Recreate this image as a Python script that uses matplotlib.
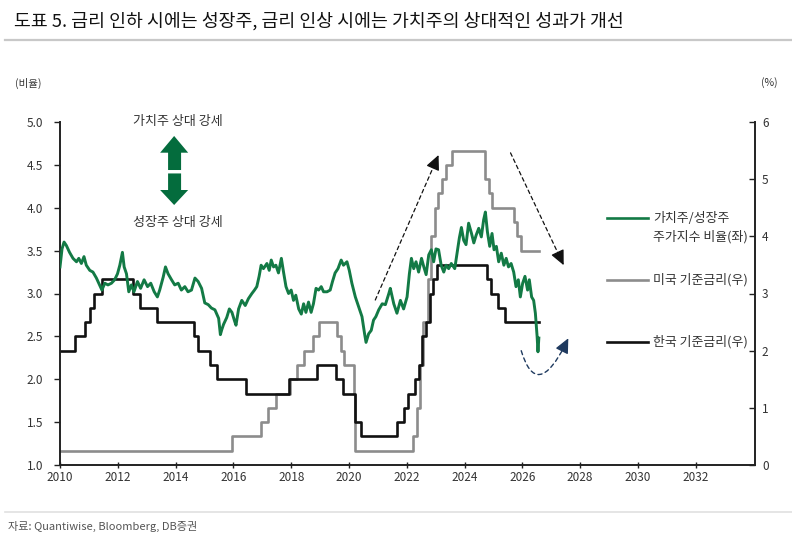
import matplotlib
matplotlib.use("Agg")
import matplotlib.pyplot as plt
from matplotlib.patches import Polygon, FancyArrowPatch
from matplotlib.path import Path
from matplotlib.lines import Line2D

plt.rcParams['font.family'] = ['Noto Sans CJK KR', 'DejaVu Sans']

# ---------------- data ----------------
ratio_years = [2010.00, 2010.07, 2010.14, 2010.22, 2010.33, 2010.45, 2010.57, 2010.65, 2010.74, 2010.83,
               2010.91, 2011.03, 2011.14, 2011.26, 2011.37, 2011.45, 2011.55, 2011.66, 2011.78, 2011.89,
               2011.99, 2012.07, 2012.16, 2012.22, 2012.30, 2012.38, 2012.47, 2012.56, 2012.68, 2012.79,
               2012.91, 2013.03, 2013.14, 2013.26, 2013.37, 2013.45, 2013.57, 2013.65, 2013.74, 2013.86,
               2013.97, 2014.09, 2014.20, 2014.32, 2014.43, 2014.55, 2014.67, 2014.78, 2014.90, 2015.01,
               2015.13, 2015.24, 2015.36, 2015.45,
               2015.49, 2015.55, 2015.60, 2015.66, 2015.77, 2015.86, 2015.95, 2016.04, 2016.09, 2016.18,
               2016.29, 2016.41, 2016.52, 2016.64, 2016.73, 2016.81, 2016.89, 2016.96, 2017.04, 2017.16,
               2017.24, 2017.31, 2017.39, 2017.47, 2017.56, 2017.66, 2017.74, 2017.82, 2017.91, 2018.00,
               2018.08, 2018.16, 2018.26, 2018.35, 2018.43, 2018.51, 2018.60, 2018.69, 2018.77, 2018.86,
               2018.95, 2019.04, 2019.12, 2019.24, 2019.35, 2019.43, 2019.52, 2019.62, 2019.73, 2019.81,
               2019.93, 2020.01, 2020.10, 2020.22, 2020.33, 2020.45, 2020.54, 2020.59, 2020.68, 2020.77,
               2020.85,
               2020.93, 2021.03, 2021.15, 2021.26, 2021.38, 2021.43, 2021.55, 2021.66, 2021.78, 2021.89,
               2022.01, 2022.09, 2022.16, 2022.24, 2022.32, 2022.41, 2022.51, 2022.59, 2022.67, 2022.76,
               2022.85, 2022.93, 2023.01, 2023.10, 2023.19, 2023.28, 2023.36, 2023.45, 2023.54, 2023.66,
               2023.74, 2023.82, 2023.89, 2023.97, 2024.05, 2024.14, 2024.24, 2024.32, 2024.40, 2024.49,
               2024.58, 2024.66, 2024.72, 2024.79, 2024.87, 2024.95, 2025.02, 2025.10, 2025.18, 2025.27,
               2025.36, 2025.44, 2025.52, 2025.61, 2025.70, 2025.78, 2025.86, 2025.93, 2026.01, 2026.09,
               2026.18, 2026.24, 2026.32, 2026.39, 2026.45, 2026.51, 2026.54, 2026.57]
ratio_values = [3.31, 3.52, 3.60, 3.56, 3.48, 3.41, 3.37, 3.41, 3.35, 3.43,
                3.33, 3.27, 3.25, 3.18, 3.10, 3.04, 3.12, 3.10, 3.12, 3.16,
                3.23, 3.33, 3.48, 3.31, 3.23, 3.02, 3.10, 3.02, 3.14, 3.06,
                3.16, 3.08, 3.12, 3.02, 2.96, 3.04, 3.19, 3.31, 3.23, 3.16,
                3.10, 3.12, 3.04, 3.08, 3.02, 3.04, 3.18, 3.14, 3.06, 2.89,
                2.87, 2.83, 2.81, 2.74,
                2.71, 2.52, 2.58, 2.64, 2.72, 2.82, 2.78, 2.68, 2.63, 2.82,
                2.92, 2.86, 2.94, 3.00, 3.04, 3.08, 3.20, 3.33, 3.29, 3.35,
                3.27, 3.39, 3.31, 3.33, 3.24, 3.41, 3.24, 3.08, 3.00, 3.04,
                2.92, 2.98, 2.82, 2.76, 2.88, 2.78, 2.90, 2.78, 2.88, 3.06,
                3.04, 3.08, 3.02, 3.02, 3.04, 3.14, 3.24, 3.29, 3.39, 3.33,
                3.37, 3.27, 3.12, 2.96, 2.85, 2.73, 2.53, 2.43, 2.53, 2.57,
                2.69,
                2.73, 2.81, 2.88, 2.87, 3.00, 3.06, 2.88, 2.77, 2.92, 2.82,
                2.96, 3.23, 3.41, 3.29, 3.37, 3.25, 3.41, 3.31, 3.22, 3.45,
                3.51, 3.37, 3.52, 3.51, 3.33, 3.25, 3.33, 3.29, 3.35, 3.29,
                3.47, 3.65, 3.77, 3.62, 3.57, 3.82, 3.70, 3.59, 3.68, 3.76,
                3.66, 3.86, 3.95, 3.72, 3.55, 3.70, 3.51, 3.55, 3.37, 3.47,
                3.33, 3.41, 3.31, 3.35, 3.25, 3.08, 3.16, 2.96, 3.12, 3.20,
                3.04, 3.16, 2.96, 2.92, 2.77, 2.50, 2.32, 2.48]

us_dates = [2010.00, 2015.96, 2016.96, 2017.21, 2017.46, 2017.96, 2018.21, 2018.46, 2018.74, 2018.97,
            2019.58, 2019.72, 2019.83, 2020.17, 2020.21, 2022.21, 2022.34, 2022.46, 2022.57, 2022.72,
            2022.84, 2022.96, 2023.09, 2023.21, 2023.34, 2023.57, 2024.72, 2024.85, 2024.96, 2025.71,
            2025.83, 2025.94, 2026.57]
us_rates = [0.25, 0.50, 0.75, 1.00, 1.25, 1.50, 1.75, 2.00, 2.25, 2.50,
            2.25, 2.00, 1.75, 1.25, 0.25, 0.50, 1.00, 1.75, 2.50, 3.25,
            4.00, 4.50, 4.75, 5.00, 5.25, 5.50, 5.00, 4.75, 4.50, 4.25,
            4.00, 3.75, 3.75]

kr_dates = [2010.00, 2010.53, 2010.87, 2011.03, 2011.19, 2011.45, 2012.53, 2012.78, 2013.36, 2014.62,
            2014.79, 2015.19, 2015.45, 2016.44, 2017.91, 2018.91, 2019.55, 2019.79, 2020.21, 2020.41,
            2021.65, 2021.90, 2022.04, 2022.29, 2022.41, 2022.53, 2022.65, 2022.79, 2022.90, 2023.04,
            2024.78, 2024.91, 2025.15, 2025.41, 2026.57]
kr_rates = [2.00, 2.25, 2.50, 2.75, 3.00, 3.25, 3.00, 2.75, 2.50, 2.25,
            2.00, 1.75, 1.50, 1.25, 1.50, 1.75, 1.50, 1.25, 0.75, 0.50,
            0.75, 1.00, 1.25, 1.50, 1.75, 2.25, 2.50, 3.00, 3.25, 3.50,
            3.25, 3.00, 2.75, 2.50, 2.50]

x_ticks = [2010, 2012, 2014, 2016, 2018, 2020, 2022, 2024, 2026, 2028, 2030, 2032]
left_ticks = [1.0, 1.5, 2.0, 2.5, 3.0, 3.5, 4.0, 4.5, 5.0]
right_ticks = [0, 1, 2, 3, 4, 5, 6]

title = "도표 5. 금리 인하 시에는 성장주, 금리 인상 시에는 가치주의 상대적인 성과가 개선"
source = "자료: Quantiwise, Bloomberg, DB증권"
legend_labels = ["가치주/성장주\n주가지수 비율(좌)", "미국 기준금리(우)", "한국 기준금리(우)"]

# ---------------- style ----------------
GREEN = "#137a45"
ARROW_GREEN = "#046c3d"
GRAY = "#8c8c8c"
BLACK = "#111111"
NAVY = "#1f3a5f"
TXT = "#333333"

fig = plt.figure(figsize=(7.92, 5.40), dpi=100)
ax = fig.add_axes([60/792, 1-465/540, 695/792, 343/540])
ax2 = ax.twinx()

ax2.step(us_dates, us_rates, where='post', color=GRAY, lw=1.9, zorder=2)
ax2.step(kr_dates, kr_rates, where='post', color=BLACK, lw=1.9, zorder=3)
ax.plot(ratio_years, ratio_values, color=GREEN, lw=2.1, zorder=4)
ax.set_zorder(ax2.get_zorder() + 1)
ax.patch.set_visible(False)

ax.set_xlim(2010, 2034.05)
ax.set_ylim(1.0, 5.0)
ax2.set_ylim(0, 6)
ax.set_xticks(x_ticks)
ax.set_xticklabels([str(t) for t in x_ticks])
ax.set_yticks(left_ticks)
ax.set_yticklabels([f"{t:.1f}" for t in left_ticks])
ax2.set_yticks(right_ticks)
ax2.set_yticklabels([str(t) for t in right_ticks])

for a in (ax, ax2):
    a.spines['top'].set_visible(False)
    for s in ('left', 'right', 'bottom'):
        a.spines[s].set_linewidth(1.4)
        a.spines[s].set_color('#222222')
ax.spines['right'].set_visible(False)
ax2.spines['left'].set_visible(False)
ax2.spines['bottom'].set_visible(False)

ax.tick_params(axis='x', direction='inout', length=5, width=1, labelsize=8.5, colors='#222222',
               labelcolor=TXT, pad=2)
ax.tick_params(axis='y', direction='out', length=4, width=1, labelsize=8.5, colors='#222222',
               labelcolor=TXT, pad=8)
ax2.tick_params(axis='y', direction='in', length=4, width=1, labelsize=8.5, colors='#222222',
                labelcolor=TXT, pad=5)

# double green arrow
up = Polygon([(2013.95, 4.837), (2014.435, 4.642), (2014.19, 4.642), (2014.19, 4.44),
              (2013.74, 4.44), (2013.74, 4.642), (2013.465, 4.642)],
             closed=True, facecolor=ARROW_GREEN, edgecolor='none', zorder=5)
dn = Polygon([(2013.74, 4.40), (2014.19, 4.40), (2014.19, 4.207), (2014.435, 4.207),
              (2013.95, 4.032), (2013.465, 4.207), (2013.74, 4.207)],
             closed=True, facecolor=ARROW_GREEN, edgecolor='none', zorder=5)
ax.add_patch(up)
ax.add_patch(dn)
ax.text(2014.08, 5.0, "가치주 상대 강세", ha='center', va='center', fontsize=9.4, color=TXT)
ax.text(2014.08, 3.83, "성장주 상대 강세", ha='center', va='center', fontsize=9.4, color=TXT)

# dashed arrows with solid heads
HEAD = '-|>,head_length=0.9,head_width=0.42'
DASH = (0, (3, 2.5))


def dashed_arrow(start, tip, col, frac=0.06):
    ax.annotate("", xy=tip, xytext=start,
                arrowprops=dict(arrowstyle='-', color=col, lw=0.9, linestyle=DASH,
                                shrinkA=0, shrinkB=6), zorder=6)
    hx = tip[0] - (tip[0] - start[0]) * frac
    hy = tip[1] - (tip[1] - start[1]) * frac
    ax.annotate("", xy=tip, xytext=(hx, hy),
                arrowprops=dict(arrowstyle=HEAD, color=col, lw=0.9, shrinkA=0, shrinkB=0),
                zorder=6)


dashed_arrow((2020.91, 2.924), (2023.10, 4.615), BLACK)
dashed_arrow((2025.59, 4.64), (2027.43, 3.33), BLACK)

curve = Path([(2025.96, 2.333), (2026.49, 1.74), (2027.50, 2.41)],
             [Path.MOVETO, Path.CURVE3, Path.CURVE3])
ax.add_patch(FancyArrowPatch(path=curve, arrowstyle='-', color=NAVY, lw=1.0, linestyle=DASH,
                             transform=ax.transData, zorder=6))
ax.annotate("", xy=(2027.59, 2.478), xytext=(2027.48, 2.404),
            arrowprops=dict(arrowstyle=HEAD, color=NAVY, lw=0.9, shrinkA=0, shrinkB=0), zorder=6)

# legend (manual)
leg = [(0.720, GREEN), (0.539, GRAY), (0.359, BLACK)]
for (yy, col), lab in zip(leg, legend_labels):
    ax.add_line(Line2D([0.787, 0.846], [yy, yy], transform=ax.transAxes, color=col, lw=1.9,
                       clip_on=False))
    ax.text(0.853, yy, lab.split("\n")[0], transform=ax.transAxes, ha='left', va='center',
            fontsize=9.3, color=TXT)
ax.text(0.853, 0.665, legend_labels[0].split("\n")[1], transform=ax.transAxes, ha='left',
        va='center', fontsize=9.3, color=TXT)

# axis unit labels
fig.text(15/792, 1-83/540, "(비율)", ha='left', va='center', fontsize=7.6, color=TXT)
fig.text(778/792, 1-83/540, "(%)", ha='right', va='center', fontsize=7.6, color=TXT)

# title, separators, source
fig.text(14/792, 1-21/540, title, ha='left', va='center', fontsize=13.2, color='#111111')
fig.add_artist(Line2D([5/792, 1.0], [1-40/540, 1-40/540], color='#c8c8c8', lw=1.6))
fig.add_artist(Line2D([5/792, 1.0], [1-512/540, 1-512/540], color='#e0e0e0', lw=1.2))
fig.text(8/792, 1-526/540, source, ha='left', va='center', fontsize=8, color='#555555')

fig.savefig("out.png", dpi=100)
